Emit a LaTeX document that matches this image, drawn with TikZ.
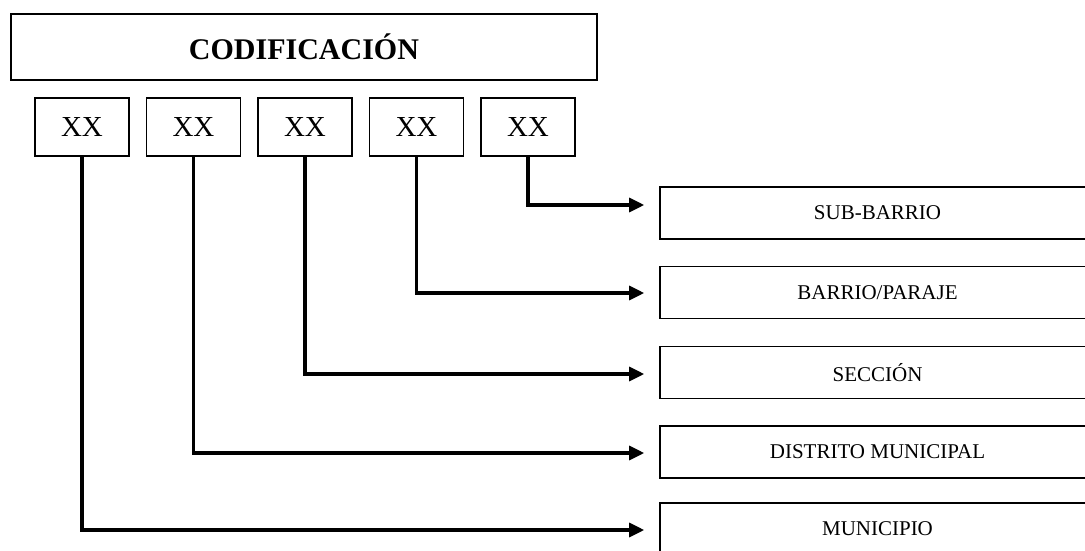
\documentclass[tikz,border=0pt]{standalone}
\usepackage{fontspec}
\setmainfont{Liberation Serif}
\usetikzlibrary{arrows.meta}
\begin{document}
\begin{tikzpicture}[x=1pt,y=-1pt,
  box/.style={draw=black,line width=1.6pt,inner sep=0pt,fill=white},
  titlebox/.style={box,minimum width=586pt,minimum height=66pt,font=\fontsize{30}{35}\selectfont\bfseries},
  xxbox/.style={box,minimum width=94pt,minimum height=58pt,font=\fontsize{29}{34}\selectfont},
  levelbox/.style={box,minimum width=435pt,minimum height=52pt,font=\fontsize{21}{25}\selectfont},
  conn/.style={line width=3.2pt,-{Triangle[length=15pt,width=14pt]}}]
\useasboundingbox (0,0) rectangle (1085,551);
\node[titlebox] (cod) at (304,47) {CODIFICACIÓN};
\foreach \i in {1,...,5}{
  \node[xxbox] (x\i) at ({82+111.5*(\i-1)},127) {XX};
}
\node[levelbox] (sb) at (877.5,213) {SUB-BARRIO};
\node[levelbox] (bp) at (877.5,292.5) {BARRIO/PARAJE};
\node[levelbox] (se) at (877.5,372.5) {SECCIÓN};
\node[levelbox] (dm) at (877.5,452) {DISTRITO MUNICIPAL};
\node[levelbox] (mu) at (877.5,529) {MUNICIPIO};
\draw[conn] (x5.south) |- ([xshift=-15pt,yshift=8pt]sb.west);
\draw[conn] (x4.south) |- ([xshift=-15pt,yshift=-0.5pt]bp.west);
\draw[conn] (x3.south) |- ([xshift=-15pt,yshift=-1.5pt]se.west);
\draw[conn] (x2.south) |- ([xshift=-15pt,yshift=-1pt]dm.west);
\draw[conn] (x1.south) |- ([xshift=-15pt,yshift=-1pt]mu.west);
\end{tikzpicture}
\end{document}
